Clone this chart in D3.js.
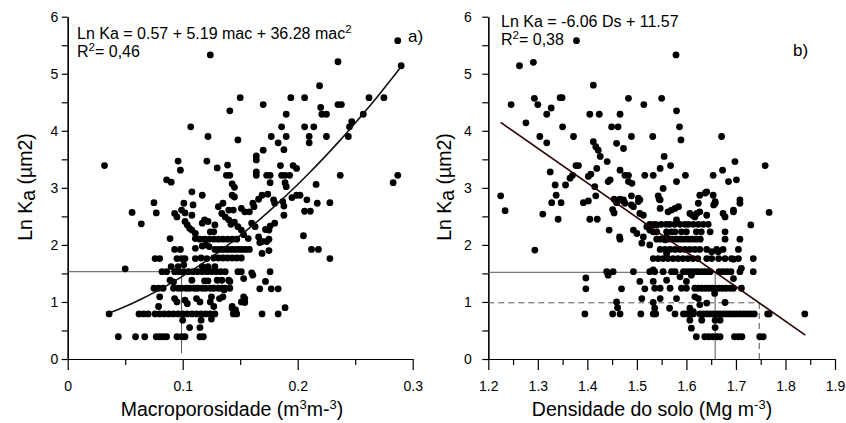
<!DOCTYPE html>
<html>
<head>
<meta charset="utf-8">
<script src="https://cdn.jsdelivr.net/npm/d3@7"></script>
<style>
  body { margin: 0; background: #fff; }
  svg { font-family: "Liberation Sans", Arial, sans-serif; }
</style>
</head>
<body>
<div id="chart"></div>
<script>
// Panel a: macroporosity (m3 m-3) vs Ln Ka
const pointsA = [
  [0.287,5.58],[0.290,5.14],[0.124,5.33],[0.235,5.21],[0.219,4.79],
  [0.150,4.58],[0.194,4.58],[0.206,4.58],[0.262,4.58],[0.275,4.58],
  [0.170,4.46],[0.141,4.35],[0.235,4.46],[0.238,4.46],[0.220,4.41],
  [0.221,4.29],[0.225,4.29],[0.190,4.29],[0.257,4.29],
  [0.247,4.16],[0.245,4.07],[0.107,4.07],[0.186,4.07],[0.206,4.07],[0.214,4.07],
  [0.122,3.90],[0.148,3.84],[0.177,3.90],[0.190,3.90],[0.210,3.90],[0.225,3.90],[0.244,3.90],
  [0.210,3.79],[0.183,3.79],[0.170,3.66],[0.188,3.67],[0.164,3.56],[0.164,3.49],
  [0.096,3.47],[0.121,3.47],[0.098,3.31],[0.130,3.35],[0.139,3.40],[0.185,3.39],[0.196,3.39],[0.199,3.34],
  [0.164,3.28],[0.164,3.22],[0.138,3.22],[0.141,3.22],[0.173,3.22],[0.176,3.22],[0.186,3.22],[0.189,3.22],[0.193,3.22],[0.237,3.22],[0.287,3.22],
  [0.283,3.09],[0.176,3.09],[0.189,3.09],[0.190,3.02],[0.086,3.14],[0.090,3.10],[0.143,3.07],[0.145,3.01],[0.216,3.06],
  [0.032,3.39],
  [0.108,2.93],[0.117,2.87],[0.143,2.87],[0.145,2.84],[0.166,2.80],[0.169,2.87],[0.174,2.89],[0.195,2.83],[0.199,2.87],[0.202,2.87],[0.208,2.79],
  [0.075,2.74],[0.101,2.73],[0.109,2.70],[0.135,2.73],[0.161,2.73],[0.179,2.79],[0.180,2.73],[0.187,2.76],[0.188,2.68],[0.217,2.73],[0.228,2.74],
  [0.056,2.57],[0.077,2.56],[0.064,2.37],[0.093,2.55],[0.095,2.49],[0.099,2.61],[0.102,2.56],[0.108,2.52],
  [0.131,2.67],[0.140,2.61],[0.144,2.61],[0.151,2.64],[0.154,2.58],[0.158,2.58],[0.162,2.67],[0.206,2.59],[0.211,2.59],[0.188,2.52],
  [0.102,2.41],[0.104,2.35],[0.106,2.29],[0.108,2.26],[0.111,2.20],[0.111,2.11],
  [0.117,2.38],[0.119,2.44],[0.122,2.41],[0.124,2.23],[0.127,2.23],[0.128,2.35],[0.134,2.55],[0.137,2.49],
  [0.140,2.44],[0.142,2.36],[0.145,2.40],[0.148,2.32],[0.151,2.26],[0.153,2.18],[0.157,2.11],[0.160,2.38],[0.163,2.32],
  [0.166,2.14],[0.169,2.06],[0.173,2.06],[0.176,2.33],[0.180,2.38],[0.172,2.27],[0.175,2.26],[0.167,2.04],[0.175,2.10],[0.205,2.16],
  [0.089,2.11],
  [0.115,2.10],[0.119,2.10],[0.123,2.10],[0.127,2.10],[0.131,2.10],[0.135,2.10],[0.139,2.10],[0.143,2.10],[0.147,2.10],
  [0.093,1.92],[0.098,1.92],[0.111,1.94],[0.117,1.98],[0.120,2.00],[0.123,1.97],
  [0.128,1.92],[0.131,1.92],[0.134,1.92],[0.137,1.92],[0.140,1.92],[0.143,1.92],[0.146,1.92],[0.149,1.92],[0.152,1.92],[0.155,1.92],[0.158,1.92],
  [0.169,1.85],[0.175,1.90],[0.212,1.92],[0.218,1.92],
  [0.076,1.76],[0.080,1.76],[0.095,1.76],[0.099,1.76],[0.102,1.76],[0.111,1.76],[0.116,1.77],[0.121,1.76],
  [0.127,1.77],[0.131,1.77],[0.135,1.77],[0.139,1.77],[0.143,1.77],[0.147,1.77],[0.151,1.77],[0.228,1.76],
  [0.090,1.62],[0.096,1.62],[0.101,1.65],[0.117,1.62],[0.122,1.62],[0.128,1.62],
  [0.050,1.58],[0.082,1.53],[0.086,1.53],[0.093,1.53],[0.097,1.53],[0.101,1.53],[0.105,1.53],[0.109,1.53],[0.113,1.53],
  [0.117,1.53],[0.121,1.53],[0.125,1.53],[0.129,1.53],[0.133,1.53],[0.137,1.53],
  [0.148,1.53],[0.151,1.53],[0.160,1.51],[0.161,1.47],[0.176,1.53],
  [0.089,1.38],[0.092,1.35],[0.108,1.38],[0.119,1.37],[0.122,1.37],[0.130,1.38],[0.134,1.38],[0.140,1.38],[0.141,1.36],[0.153,1.41],[0.172,1.36],
  [0.075,1.24],[0.079,1.24],[0.083,1.24],[0.092,1.24],[0.096,1.24],[0.099,1.24],[0.103,1.24],[0.106,1.24],[0.110,1.24],
  [0.113,1.24],[0.117,1.24],[0.120,1.24],[0.124,1.24],[0.127,1.24],[0.131,1.24],[0.134,1.24],[0.137,1.24],[0.141,1.24],
  [0.136,1.21],[0.167,1.23],[0.177,1.23],[0.183,1.23],
  [0.080,1.09],[0.093,1.06],[0.095,1.00],[0.102,1.03],[0.104,0.97],[0.112,1.06],[0.115,1.00],[0.125,1.09],[0.124,1.00],
  [0.132,1.06],[0.135,1.09],[0.153,1.09],[0.151,1.00],[0.154,1.06],[0.154,0.99],
  [0.079,0.92],[0.127,0.92],[0.143,0.92],[0.146,0.86],[0.143,0.89],[0.189,0.90],
  [0.036,0.79],[0.062,0.79],[0.066,0.79],[0.070,0.79],[0.076,0.79],[0.080,0.79],[0.084,0.79],[0.088,0.79],[0.092,0.79],
  [0.096,0.79],[0.100,0.79],[0.104,0.79],[0.108,0.79],[0.112,0.79],[0.116,0.79],[0.120,0.79],[0.124,0.79],[0.128,0.79],
  [0.144,0.79],[0.147,0.79],[0.169,0.79],[0.183,0.79],
  [0.100,0.68],[0.116,0.68],[0.125,0.70],[0.106,0.55],[0.115,0.55],
  [0.044,0.39],[0.059,0.39],[0.067,0.39],[0.077,0.39],[0.080,0.39],[0.083,0.39],[0.086,0.39],[0.095,0.39],[0.099,0.39],
  [0.102,0.39],[0.115,0.39],[0.118,0.39]
];

// Panel b: bulk density (Mg m-3) vs Ln Ka
const pointsB = [
  [1.378,5.58],[1.579,5.33],[1.263,5.14],[1.291,5.20],[1.412,4.80],
  [1.246,4.46],[1.293,4.57],[1.300,4.46],[1.276,4.14],[1.318,4.29],[1.327,4.40],[1.345,4.58],[1.349,4.58],[1.350,4.07],
  [1.304,3.90],[1.318,3.79],[1.372,3.90],[1.325,3.28],[1.335,3.05],[1.337,2.87],[1.328,2.74],[1.347,2.74],[1.341,2.45],[1.310,2.54],[1.294,1.91],
  [1.225,2.86],[1.234,2.60],[1.356,3.05],[1.365,3.17],[1.370,3.22],[1.377,3.39],[1.382,3.39],
  [1.405,4.29],[1.424,4.29],[1.412,3.81],[1.417,3.72],[1.422,3.66],[1.426,3.55],[1.419,3.34],[1.402,3.20],[1.407,3.24],[1.415,3.02],[1.417,2.86],
  [1.392,2.74],[1.402,2.77],[1.405,2.45],[1.420,2.45],
  [1.440,3.46],[1.442,3.11],[1.446,3.14],[1.444,2.26],[1.449,4.07],[1.462,4.07],[1.459,3.78],[1.466,4.29],[1.473,3.69],[1.466,3.31],
  [1.476,3.22],[1.483,3.22],[1.483,3.11],[1.490,3.08],
  [1.454,2.80],[1.459,2.74],[1.451,2.62],[1.454,2.56],[1.466,2.80],[1.473,2.76],[1.465,2.14],[1.466,2.10],
  [1.483,4.57],[1.489,3.90],[1.489,2.86],[1.493,2.67],[1.493,2.26],[1.500,2.20],[1.503,2.82],[1.503,2.76],[1.510,2.03],
  [1.514,4.46],[1.516,3.22],[1.532,3.90],[1.533,3.22],[1.513,2.52],[1.520,2.32],[1.526,2.26],[1.543,2.86],[1.545,2.80],
  [1.547,3.34],[1.550,4.57],[1.555,3.55],[1.553,2.99],[1.568,3.39],
  [1.580,4.35],[1.586,4.07],[1.589,3.84],[1.580,3.11],[1.598,3.22],[1.654,3.22],[1.671,3.90],[1.673,3.31],[1.685,3.11],
  [1.698,3.46],[1.701,3.14],[1.759,3.39],[1.767,2.57],
  [1.638,2.91],[1.627,2.87],[1.641,2.93],[1.654,2.87],[1.658,2.76],[1.658,2.73],[1.655,2.70],[1.624,2.73],[1.708,2.79],
  [1.695,2.61],[1.730,2.35],[1.708,2.73],
  [1.621,2.55],[1.627,2.58],[1.641,2.52],[1.674,2.55],[1.678,2.49],[1.695,2.58],
  [1.473,2.79],[1.476,2.73],[1.489,2.70],[1.506,2.79],[1.547,2.79],[1.547,2.64],[1.563,2.58],[1.570,2.61],[1.577,2.64],
  [1.584,2.67],[1.506,2.55],[1.607,2.55],[1.612,2.52],[1.617,2.49],[1.580,2.44],
  [1.526,2.36],[1.536,2.36],[1.549,2.36],[1.559,2.36],[1.566,2.36],[1.576,2.36],[1.587,2.36],[1.597,2.36],[1.604,2.36],
  [1.614,2.36],[1.624,2.36],[1.634,2.36],[1.644,2.36],
  [1.533,2.23],[1.540,2.23],[1.560,2.23],[1.570,2.23],[1.577,2.23],[1.590,2.23],[1.600,2.23],[1.620,2.23],[1.630,2.23],[1.648,2.23],[1.678,2.23],
  [1.540,2.10],[1.548,2.10],[1.556,2.10],[1.564,2.10],[1.572,2.10],[1.580,2.10],[1.588,2.10],[1.596,2.10],[1.604,2.10],
  [1.612,2.10],[1.620,2.10],[1.628,2.10],[1.678,2.10],[1.708,2.10],
  [1.526,2.00],[1.513,2.14],[1.557,2.09],[1.560,2.14],[1.530,2.35],[1.540,2.35],
  [1.547,1.92],[1.557,1.92],[1.567,1.92],[1.577,1.92],[1.587,1.92],[1.597,1.92],[1.607,1.92],[1.617,1.92],[1.627,1.92],
  [1.641,1.92],[1.661,1.92],[1.674,1.92],[1.705,1.92],[1.651,1.88],[1.664,1.88],[1.560,1.85],
  [1.533,1.76],[1.543,1.76],[1.553,1.76],[1.563,1.76],[1.573,1.76],[1.583,1.76],[1.593,1.76],[1.603,1.76],[1.613,1.76],
  [1.623,1.76],[1.641,1.76],[1.651,1.76],[1.665,1.76],[1.678,1.76],[1.691,1.76],[1.705,1.76],[1.735,1.76],[1.695,1.75],
  [1.442,1.47],[1.452,1.53],[1.439,1.53],[1.493,1.53],[1.526,1.53],[1.536,1.53],[1.533,1.56],[1.553,1.53],[1.570,1.53],
  [1.577,1.53],[1.594,1.53],[1.601,1.53],[1.608,1.53],[1.615,1.53],[1.622,1.53],[1.629,1.53],[1.636,1.53],[1.643,1.53],
  [1.648,1.53],[1.666,1.53],[1.674,1.53],[1.682,1.53],[1.690,1.53],[1.708,1.53],[1.735,1.53],[1.711,1.59],
  [1.587,1.44],[1.610,1.47],[1.695,1.41],[1.533,1.36],[1.560,1.38],[1.600,1.36],[1.506,1.36],
  [1.397,1.42],[1.397,1.23],
  [1.469,1.23],[1.516,1.23],[1.536,1.24],[1.547,1.24],[1.567,1.24],[1.590,1.24],[1.600,1.24],[1.617,1.24],[1.624,1.24],
  [1.631,1.24],[1.638,1.24],[1.645,1.24],[1.652,1.24],[1.659,1.24],[1.666,1.24],[1.673,1.24],[1.680,1.24],[1.688,1.24],
  [1.695,1.24],[1.711,1.24],
  [1.617,1.09],[1.624,1.06],[1.580,1.06],[1.510,1.06],[1.547,1.06],[1.657,1.15],
  [1.459,1.00],[1.461,0.90],[1.533,0.99],[1.536,0.89],[1.566,0.89],[1.627,0.95],[1.641,0.98],[1.678,0.99],[1.607,0.89],[1.614,0.83],
  [1.395,0.79],[1.451,0.79],[1.466,0.79],[1.508,0.79],[1.533,0.79],[1.538,0.79],[1.577,0.79],[1.594,0.79],[1.600,0.79],
  [1.607,0.79],[1.614,0.79],[1.627,0.79],[1.634,0.79],[1.641,0.79],[1.648,0.79],[1.655,0.79],[1.662,0.79],[1.668,0.79],
  [1.675,0.79],[1.682,0.79],[1.688,0.79],[1.695,0.79],[1.702,0.79],[1.709,0.79],[1.716,0.79],[1.723,0.79],[1.730,0.79],
  [1.737,0.79],[1.764,0.79],[1.767,0.79],[1.839,0.79],
  [1.607,0.68],[1.631,0.68],[1.658,0.68],[1.668,0.68],[1.610,0.54],[1.658,0.55],
  [1.620,0.39],[1.637,0.39],[1.645,0.39],[1.653,0.39],[1.661,0.39],[1.668,0.39],[1.697,0.39],[1.705,0.39],[1.712,0.39],
  [1.748,0.39],[1.755,0.39]
];

// fitted equations as printed on the chart
const fitA = [0.57, 5.19, 36.28];   // c0 + c1*mac + c2*mac^2
const fitARange = [0.035, 0.29];
const fitB = [11.57, -6.06];        // c0 + c1*Ds
const fitBRange = [1.225, 1.84];

// guide lines
const guidesA = [{ x: [0, 0.099], y: [1.53, 1.53], dash: null }, { x: [0.099, 0.099], y: [0.1, 1.53], dash: null }];
const guidesB = [
  { x: [1.2, 1.658], y: [1.52, 1.52], dash: null },
  { x: [1.658, 1.658], y: [0, 1.52], dash: null },
  { x: [1.2, 1.747], y: [0.985, 0.985], dash: "6,4" },
  { x: [1.747, 1.747], y: [0, 0.985], dash: "6,4" }
];

const yTicks = [0, 1, 2, 3, 4, 5, 6];
const yMinor = [0.5, 1.5, 2.5, 3.5, 4.5, 5.5];
const xTicksA = [0, 0.1, 0.2, 0.3];
const xMinorA = [0.05, 0.15, 0.25];
const xTicksB = [1.2, 1.3, 1.4, 1.5, 1.6, 1.7, 1.8, 1.9];
const xMinorB = [1.25, 1.35, 1.45, 1.55, 1.65, 1.75, 1.85];

const width = 846, height = 423;
const svg = d3.select("#chart").append("svg")
  .attr("width", width)
  .attr("height", height);

const yScale = d3.scaleLinear().domain([0, 6]).range([359, 16.7]);
const xA = d3.scaleLinear().domain([0, 0.3]).range([67.7, 412.7]);
const xB = d3.scaleLinear().domain([1.2, 1.9]).range([488.3, 835]);

function drawPanel(x, pts, xTicks, xMinor, fmt, yPad, guides, fitPts, fitColor) {
  const g = svg.append("g");

  // y axis: labelled integers, unlabelled halves
  g.append("g")
    .attr("transform", `translate(${x.range()[0]},0)`)
    .call(d3.axisLeft(yScale).tickValues(yTicks).tickSize(6).tickSizeOuter(0).tickPadding(yPad).tickFormat(d3.format("d")))
    .call(a => a.selectAll("text").attr("font-size", 14).attr("fill", "#000"));
  g.append("g")
    .attr("transform", `translate(${x.range()[0]},0)`)
    .call(d3.axisLeft(yScale).tickValues(yMinor).tickSize(6).tickSizeOuter(0).tickFormat(""));

  // x axis
  g.append("g")
    .attr("transform", `translate(0,${yScale(0)})`)
    .call(d3.axisBottom(x).tickValues(xTicks).tickSize(11).tickSizeOuter(0).tickPadding(11).tickFormat(fmt))
    .call(a => a.selectAll("text").attr("font-size", 14).attr("fill", "#000"));
  g.append("g")
    .attr("transform", `translate(0,${yScale(0)})`)
    .call(d3.axisBottom(x).tickValues(xMinor).tickSize(6).tickSizeOuter(0).tickFormat(""));

  g.selectAll(".domain, .tick line").attr("stroke", "#000").attr("stroke-width", 1.2);

  // guide lines
  g.selectAll(".guide").data(guides).join("line")
    .attr("x1", d => x(d.x[0])).attr("x2", d => x(d.x[1]))
    .attr("y1", d => yScale(d.y[0])).attr("y2", d => yScale(d.y[1]))
    .attr("stroke", "#555").attr("stroke-width", 1)
    .attr("stroke-dasharray", d => d.dash);

  // points
  g.selectAll("circle").data(pts).join("circle")
    .attr("cx", d => x(d[0]))
    .attr("cy", d => yScale(d[1]))
    .attr("r", 3.4)
    .attr("fill", "#000");

  // fitted line
  g.append("path")
    .datum(fitPts)
    .attr("fill", "none")
    .attr("stroke", fitColor)
    .attr("stroke-width", 1.6)
    .attr("d", d3.line().x(d => x(d[0])).y(d => yScale(d[1])));

  return g;
}

const curveA = d3.range(fitARange[0], fitARange[1] + 1e-9, 0.005)
  .map(m => [m, fitA[0] + fitA[1] * m + fitA[2] * m * m]);
const lineB = fitBRange.map(d => [d, fitB[0] + fitB[1] * d]);

const gA = drawPanel(xA, pointsA, xTicksA, xMinorA, d => d === 0 ? "0" : d3.format(".1f")(d), 3.4, guidesA, curveA, "#111");
const gB = drawPanel(xB, pointsB, xTicksB, xMinorB, d3.format(".1f"), 10.6, guidesB, lineB, "#2a0505");

// text helpers
function eqText(g, x, y, main, sup, tail) {
  const t = g.append("text").attr("x", x).attr("y", y).attr("font-size", 16);
  t.append("tspan").text(main);
  if (sup) t.append("tspan").attr("font-size", 11.5).attr("dy", -6).text(sup);
  if (tail) t.append("tspan").attr("dy", 6).text(tail);
}

// panel a annotations
eqText(gA, 77, 39, "Ln Ka = 0.57 + 5.19 mac + 36.28 mac", "2", "");
eqText(gA, 77, 57, "R", "2", "= 0,46");
gA.append("text").attr("x", 408).attr("y", 42).attr("font-size", 17).text("a)");

// panel b annotations
eqText(gB, 501, 27, "Ln Ka = -6.06 Ds + 11.57", "", "");
eqText(gB, 501, 45, "R", "2", "= 0,38");
gB.append("text").attr("x", 793).attr("y", 56).attr("font-size", 17).text("b)");

// axis titles
function xTitle(g, cx, main, parts) {
  const t = g.append("text").attr("x", cx).attr("y", 416).attr("font-size", 19.5).attr("text-anchor", "middle");
  t.append("tspan").text(main);
  parts.forEach(p => t.append("tspan").attr("font-size", p.sup ? 13 : 19.5).attr("dy", p.dy).text(p.s));
}
xTitle(gA, 232, "Macroporosidade (m", [
  { s: "3", sup: true, dy: -7 }, { s: "m-", sup: false, dy: 7 }, { s: "3", sup: true, dy: -7 }, { s: ")", sup: false, dy: 7 }
]);
xTitle(gB, 652, "Densidade do solo (Mg m", [
  { s: "-3", sup: true, dy: -7 }, { s: ")", sup: false, dy: 7 }
]);

function yTitle(g, x) {
  const t = g.append("text").attr("transform", `translate(${x},187) rotate(-90)`)
    .attr("font-size", 19.5).attr("text-anchor", "middle");
  t.append("tspan").text("Ln K");
  t.append("tspan").attr("dy", 3).text("a");
  t.append("tspan").attr("dy", -3).text(" (\u00b5m2)");
}
yTitle(gA, 32);
yTitle(gB, 451);
</script>
</body>
</html>
